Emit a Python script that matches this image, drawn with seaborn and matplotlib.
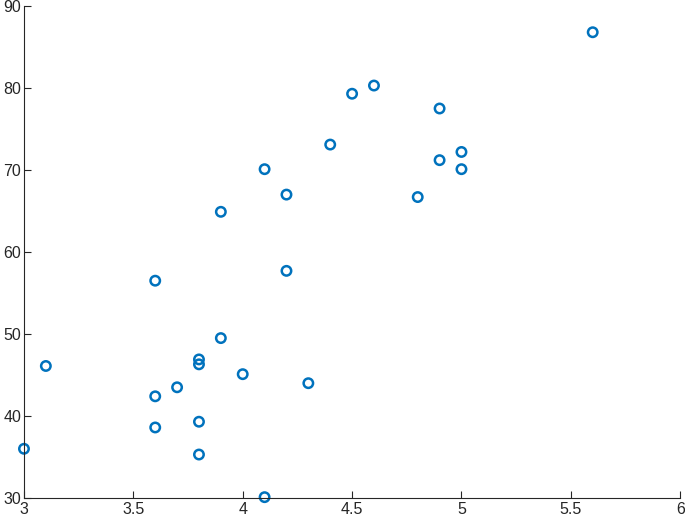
import pandas as pd
import seaborn as sns
import matplotlib.pyplot as plt

# Dane
x_vals = [3.0, 3.1, 3.6, 3.6, 3.6, 3.7, 3.8, 3.8, 3.8, 3.8, 3.9, 3.9, 4.0, 4.1,
          4.1, 4.2, 4.2, 4.3, 4.4, 4.5, 4.6, 4.8, 4.9, 4.9, 5.0, 5.0, 5.6]
y_vals = [36.0, 46.1, 56.5, 42.4, 38.6, 43.5, 46.9, 46.3, 39.3, 35.3, 64.9, 49.5, 45.1, 70.1,
          30.1, 67.0, 57.7, 44.0, 73.1, 79.3, 80.3, 66.7, 77.5, 71.2, 72.2, 70.1, 86.8]
x_ticks = [3, 3.5, 4, 4.5, 5, 5.5, 6]
y_ticks = [30, 40, 50, 60, 70, 80, 90]

df = pd.DataFrame({'x': x_vals, 'y': y_vals})

sns.set_style('ticks')
plt.rcParams['font.family'] = ['Liberation Sans', 'DejaVu Sans']

fig = plt.figure(figsize=(6.85, 5.22), dpi=100)
ax = fig.add_axes([0.035, 0.046, 0.958, 0.9425])

sns.scatterplot(data=df, x='x', y='y', ax=ax, marker='o', s=46,
                facecolor='none', edgecolor='#0072BD', linewidth=1.8)
for coll in ax.collections:
    coll.set_clip_on(False)

ax.set_xlim(3, 6)
ax.set_ylim(30, 90)
ax.set_xticks(x_ticks)
ax.set_xticklabels(['3', '3.5', '4', '4.5', '5', '5.5', '6'])
ax.set_yticks(y_ticks)
ax.set_xlabel('')
ax.set_ylabel('')
ax.tick_params(direction='in', length=5, width=0.8, colors='#262626',
               labelsize=11.5, labelcolor='#262626')
ax.tick_params(axis='y', pad=2)
ax.tick_params(axis='x', pad=3)
for side in ['top', 'right']:
    ax.spines[side].set_visible(False)
for side in ['left', 'bottom']:
    ax.spines[side].set_color('#262626')
    ax.spines[side].set_linewidth(0.8)

fig.savefig('out.png', dpi=100)
